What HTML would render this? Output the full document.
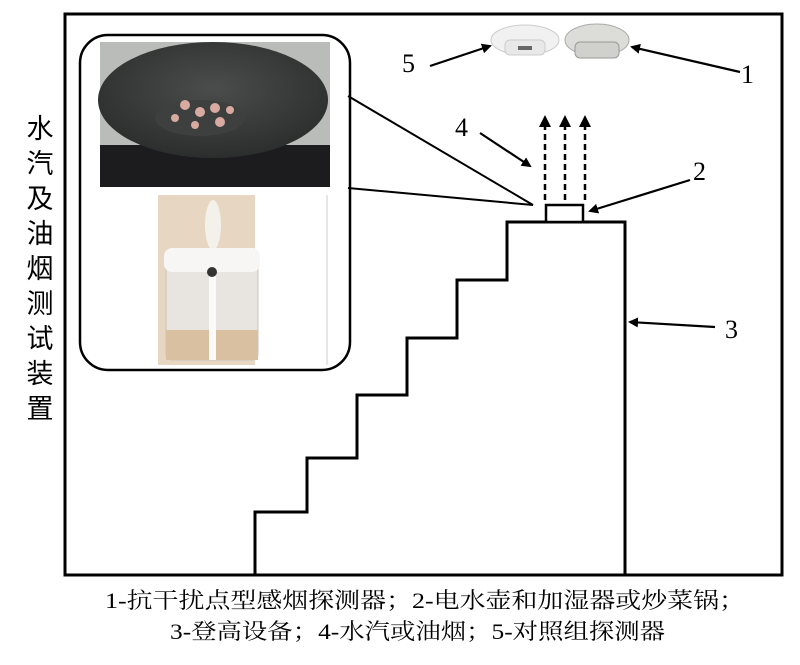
<!DOCTYPE html>
<html><head><meta charset="utf-8"><style>
body{margin:0;background:#fff;}
</style></head><body>
<svg width="800" height="660" viewBox="0 0 800 660" xmlns="http://www.w3.org/2000/svg" font-family="Liberation Serif, Noto Serif CJK SC, serif">
<defs>
<marker id="ah" markerWidth="10" markerHeight="10" refX="8" refY="5" orient="auto" markerUnits="userSpaceOnUse"><path d="M0,0 L10,5 L0,10 z" fill="#000"/></marker>
<radialGradient id="pan" cx="0.5" cy="0.4" r="0.6"><stop offset="0" stop-color="#4a4d4c"/><stop offset="1" stop-color="#2c2e2e"/></radialGradient>
</defs>
<rect x="65" y="14" width="717" height="561" fill="none" stroke="#000" stroke-width="3"/>
<rect x="80" y="35" width="270" height="335" rx="28" fill="#fff" stroke="#000" stroke-width="2.5"/>
<line x1="348" y1="96" x2="533" y2="205" stroke="#000" stroke-width="2"/>
<line x1="348" y1="188" x2="533" y2="205" stroke="#000" stroke-width="2"/>
<rect x="100" y="42" width="230" height="145" fill="#b9bcb9"/>
<rect x="100" y="145" width="230" height="42" fill="#1c1c1e"/>
<ellipse cx="213" cy="100" rx="115" ry="58" fill="url(#pan)"/>
<ellipse cx="200" cy="118" rx="45" ry="18" fill="#3e403f"/>
<g fill="#d8aaa0"><circle cx="185" cy="105" r="5"/><circle cx="200" cy="112" r="5"/><circle cx="215" cy="108" r="5"/><circle cx="195" cy="125" r="4"/><circle cx="220" cy="122" r="5"/><circle cx="175" cy="118" r="4"/><circle cx="230" cy="110" r="4"/></g>
<rect x="158" y="195" width="100" height="170" fill="#e6d6c2"/>
<rect x="255" y="195" width="73" height="170" fill="#fff"/>
<line x1="327" y1="195" x2="327" y2="365" stroke="#ccc"/>
<ellipse cx="213" cy="225" rx="8" ry="25" fill="#f4f0ea"/>
<rect x="166" y="250" width="92" height="110" rx="6" fill="#e8e4df" stroke="#c9c4bd"/>
<rect x="164" y="248" width="96" height="24" rx="8" fill="#f7f6f4"/>
<rect x="166" y="330" width="92" height="30" fill="#d8c0a0"/>
<rect x="209" y="268" width="7" height="92" fill="#fafafa"/>
<circle cx="212" cy="272" r="5" fill="#333"/>
<path d="M255,575 V512 H307 V458 H357 V395 H407 V338 H457 V280 H507 V222 H625 V575" fill="none" stroke="#000" stroke-width="3"/>
<rect x="546" y="205" width="37" height="17" fill="#fff" stroke="#000" stroke-width="2.5"/>
<g stroke="#000" stroke-width="2.5" stroke-dasharray="6,4">
<line x1="545" y1="200" x2="545" y2="125"/><line x1="565" y1="200" x2="565" y2="125"/><line x1="585" y1="200" x2="585" y2="125"/>
</g>
<g fill="#000"><path d="M539,127 L545,115 L551,127z"/><path d="M559,127 L565,115 L571,127z"/><path d="M579,127 L585,115 L591,127z"/></g>
<ellipse cx="525" cy="40" rx="34" ry="15" fill="#f1f1f1" stroke="#ccc"/>
<rect x="505" y="40" width="40" height="15" rx="5" fill="#e8e8e8" stroke="#ccc"/>
<rect x="518" y="46" width="14" height="4" fill="#666"/>
<ellipse cx="597" cy="40" rx="32" ry="16" fill="#dcdcd8" stroke="#aaa"/>
<rect x="575" y="42" width="44" height="16" rx="5" fill="#d0d0cc" stroke="#999"/>
<g stroke="#000" stroke-width="2.2" marker-end="url(#ah)">
<line x1="430" y1="66" x2="490" y2="46"/>
<line x1="740" y1="72" x2="632" y2="47"/>
<line x1="480" y1="133" x2="530" y2="166"/>
<line x1="690" y1="180" x2="590" y2="211"/>
<line x1="715" y1="327" x2="630" y2="322"/>
</g>
<g font-size="26" fill="#000">
<text x="402" y="72">5</text>
<text x="741" y="83">1</text>
<text x="455" y="136">4</text>
<text x="693" y="180">2</text>
<text x="725" y="338">3</text>
</g>
<g font-family="Liberation Sans, Noto Sans CJK SC, sans-serif" font-size="27" fill="#000" text-anchor="middle">
<text x="40" y="138">水</text><text x="40" y="173">汽</text><text x="40" y="208">及</text><text x="40" y="243">油</text><text x="40" y="278">烟</text><text x="40" y="313">测</text><text x="40" y="348">试</text><text x="40" y="383">装</text><text x="40" y="418">置</text>
</g>
<g font-size="22" fill="#000">
<text x="105" y="608" textLength="640" lengthAdjust="spacingAndGlyphs">1-抗干扰点型感烟探测器；2-电水壶和加湿器或炒菜锅；</text>
<text x="170" y="639" textLength="495" lengthAdjust="spacingAndGlyphs">3-登高设备；4-水汽或油烟；5-对照组探测器</text>
</g>
</svg>
</body></html>
